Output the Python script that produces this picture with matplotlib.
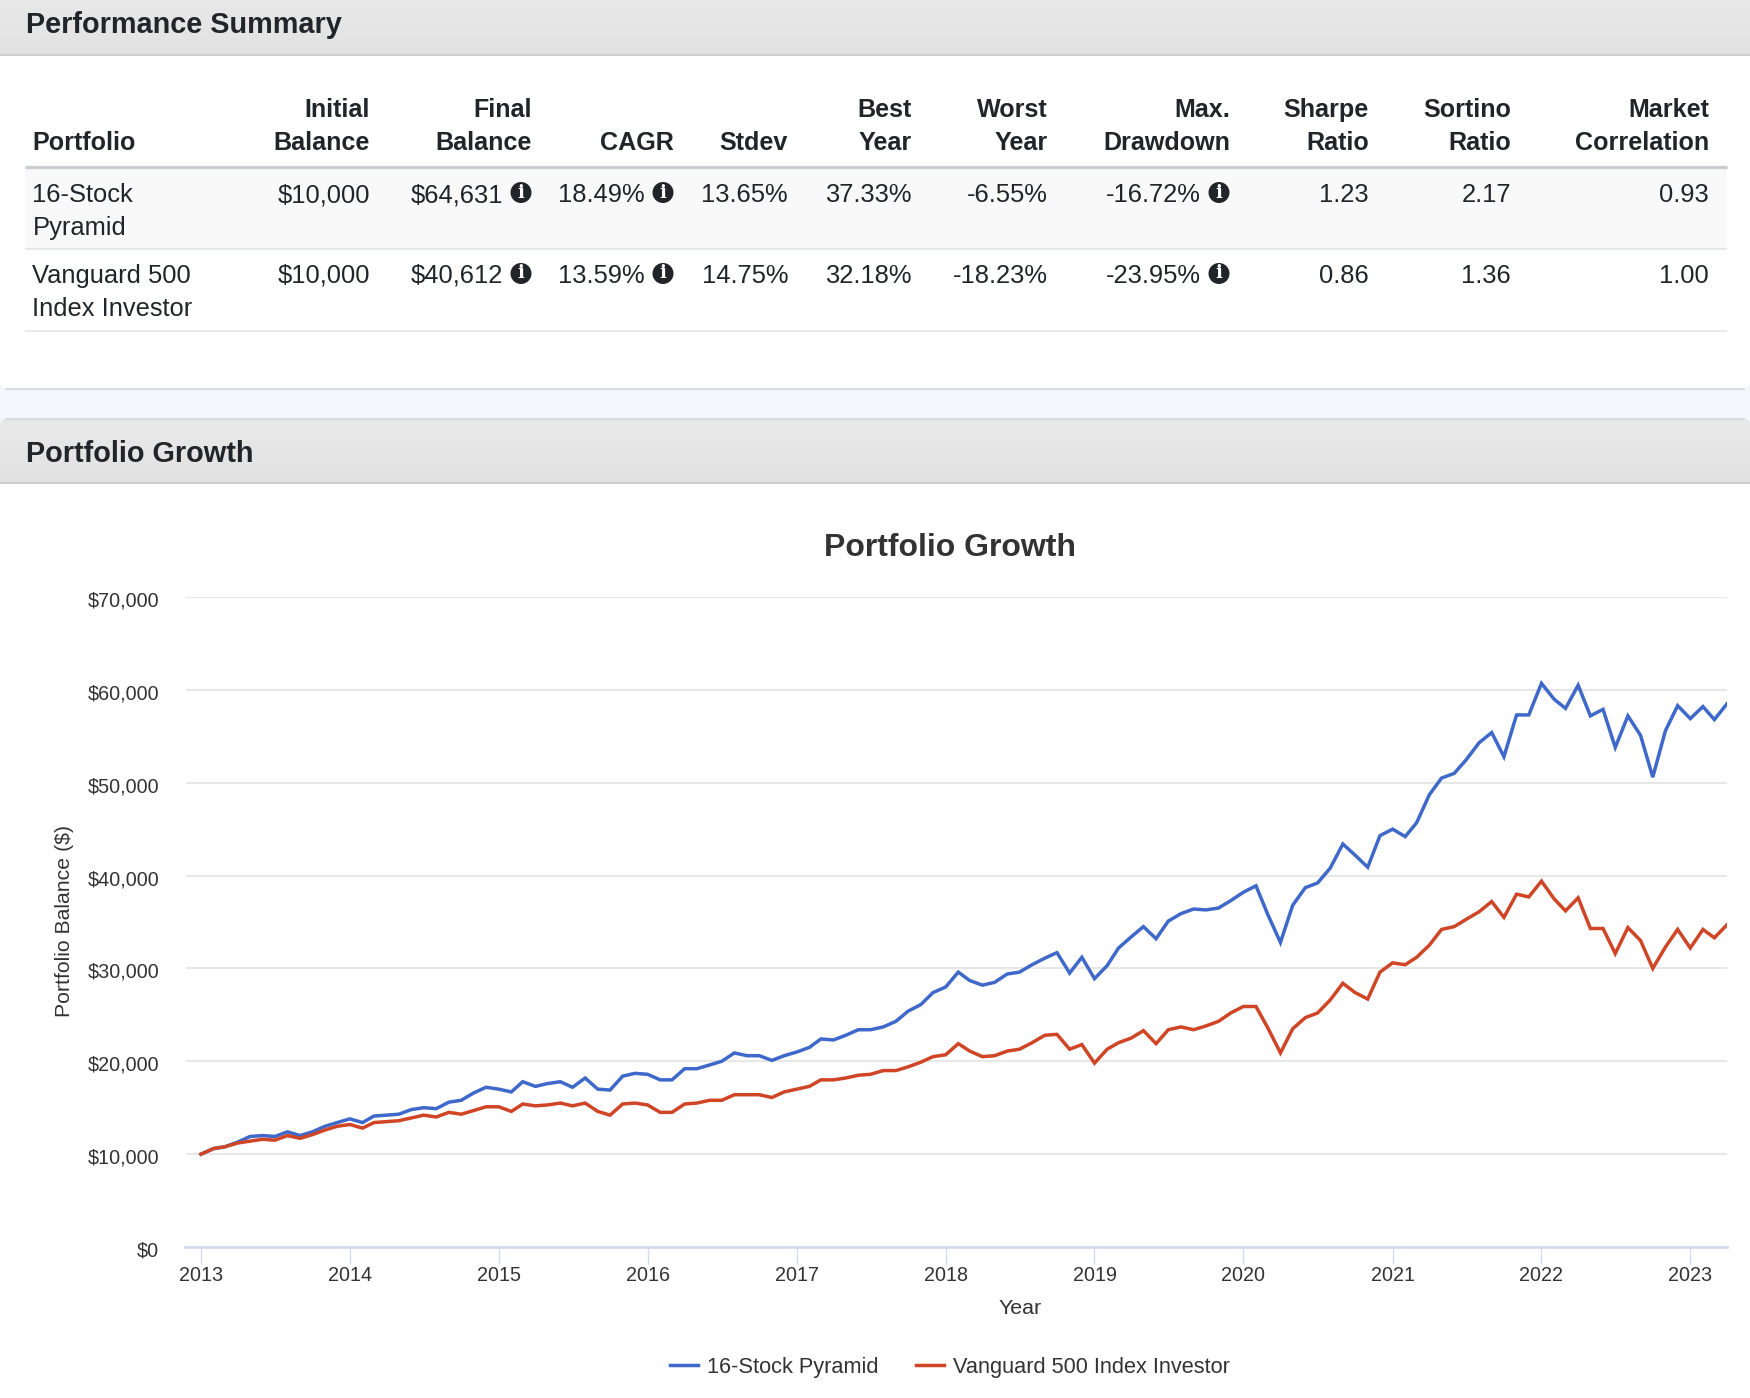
import numpy as np
import pandas as pd
import matplotlib
matplotlib.use("Agg")
import matplotlib.pyplot as plt
from matplotlib.patches import Rectangle, Circle, FancyBboxPatch
from matplotlib.transforms import ScaledTranslation

plt.rcParams['font.family'] = ['Liberation Sans', 'DejaVu Sans']

# 图表数据
dates = pd.date_range("2013-01-01", periods=124, freq="MS")
pyramid = [10000, 10600, 10800, 11300, 11900, 12000, 11900, 12400, 12000, 12400, 13000, 13400,
           13800, 13400, 14100, 14200, 14300, 14800, 15000, 14900, 15600, 15800, 16600, 17200,
           17000, 16700, 17800, 17300, 17600, 17800, 17200, 18200, 17000, 16900, 18400, 18700,
           18600, 18000, 18000, 19200, 19200, 19600, 20000, 20900, 20600, 20600, 20100, 20600,
           21000, 21500, 22400, 22300, 22800, 23400, 23400, 23700, 24300, 25400, 26100, 27400,
           28000, 29600, 28700, 28200, 28500, 29400, 29600, 30400, 31100, 31700, 29500, 31200,
           28900, 30300, 32200, 33400, 34500, 33200, 35100, 35900, 36400, 36300, 36500, 37300,
           38200, 38900, 35800, 32800, 36800, 38700, 39200, 40800, 43400, 42200, 40900, 44300,
           45000, 44200, 45700, 48700, 50500, 51000, 52500, 54300, 55400, 52800, 57300, 57300,
           60700, 59000, 58000, 60500, 57200, 57900, 53800, 57200, 55100, 50600, 55600, 58300,
           56900, 58200, 56800, 58500]
vanguard = [10000, 10600, 10800, 11200, 11400, 11600, 11500, 12000, 11700, 12100, 12600, 13000,
            13200, 12800, 13400, 13500, 13600, 13900, 14200, 14000, 14500, 14300, 14700, 15100,
            15100, 14600, 15400, 15200, 15300, 15500, 15200, 15500, 14600, 14200, 15400, 15500,
            15300, 14500, 14500, 15400, 15500, 15800, 15800, 16400, 16400, 16400, 16100, 16700,
            17000, 17300, 18000, 18000, 18200, 18500, 18600, 19000, 19000, 19400, 19900, 20500,
            20700, 21900, 21100, 20500, 20600, 21100, 21300, 22000, 22800, 22900, 21300, 21800,
            19800, 21300, 22000, 22500, 23300, 21900, 23400, 23700, 23400, 23800, 24300, 25200,
            25900, 25900, 23600, 20900, 23500, 24700, 25200, 26600, 28400, 27400, 26700, 29600,
            30600, 30400, 31200, 32500, 34200, 34500, 35300, 36100, 37200, 35500, 38000, 37700,
            39400, 37500, 36200, 37600, 34300, 34300, 31600, 34400, 33000, 30000, 32300, 34200,
            32200, 34200, 33300, 34700]
y_ticks = [0, 10000, 20000, 30000, 40000, 50000, 60000, 70000]
x_years = list(range(2013, 2024))

# 表格数据
headers_top = ["", "Initial", "Final", "", "", "Best", "Worst", "Max.", "Sharpe", "Sortino", "Market"]
headers_bottom = ["Portfolio", "Balance", "Balance", "CAGR", "Stdev", "Year", "Year", "Drawdown",
                  "Ratio", "Ratio", "Correlation"]
names = [["16-Stock", "Pyramid"], ["Vanguard 500", "Index Investor"]]
row1 = ["$10,000", "$64,631", "18.49%", "13.65%", "37.33%", "-6.55%", "-16.72%", "1.23", "2.17", "0.93"]
row2 = ["$10,000", "$40,612", "13.59%", "14.75%", "32.18%", "-18.23%", "-23.95%", "0.86", "1.36", "1.00"]
info_cols = [1, 2, 6]
right_edges = [370, 532, 674, 788, 912, 1048, 1230, 1369, 1511, 1709]

W, H = 1750, 1398
fig = plt.figure(figsize=(W / 100, H / 100), dpi=100, facecolor='#f4f6fb')

# 背景层，坐标就是像素
bg = fig.add_axes([0, 0, 1, 1], zorder=0)
bg.set_xlim(0, W)
bg.set_ylim(H, 0)
bg.axis('off')

ink = '#212529'


def panel_header(y0, y1, title, baseline):
    # 灰色渐变标题栏
    grad = np.linspace(0, 1, 64).reshape(-1, 1)
    im = bg.imshow(grad, extent=(0, W, y1, y0), cmap=matplotlib.colors.LinearSegmentedColormap.from_list(
        'g', ['#e9e9e9', '#e2e2e2']), aspect='auto', zorder=2)
    clip = FancyBboxPatch((0, y0), W, y1 - y0 + 20, boxstyle="round,pad=0,rounding_size=6",
                          transform=bg.transData, fc='none', ec='none')
    bg.add_patch(clip)
    if y0 > 0:
        im.set_clip_path(clip)
    bg.plot([0, W], [y1, y1], color='#c6c6c6', lw=1.2, zorder=3)
    bg.text(26, baseline, title, fontsize=20.8, fontweight='bold', color=ink, va='baseline', zorder=4)


# 面板：白底圆角，只有上下边线
bg.add_patch(FancyBboxPatch((0, -30), W, 419, boxstyle="round,pad=0,rounding_size=8",
                            fc='white', ec='none', zorder=1))
bg.add_patch(FancyBboxPatch((0, 419), W, 1020, boxstyle="round,pad=0,rounding_size=6",
                            fc='white', ec='none', zorder=1))
bg.plot([6, W - 6], [389, 389], color='#d3d6db', lw=1.2, zorder=2)
bg.plot([6, W - 6], [419, 419], color='#d3d6db', lw=1.2, zorder=3)
panel_header(0, 54.5, "Performance Summary", 33)
panel_header(419, 483, "Portfolio Growth", 462)
bg.set_xlim(0, W)
bg.set_ylim(H, 0)

# 表格
bg.add_patch(Rectangle((25, 168), 1702, 81, fc='#f9f9f9', ec='none', zorder=2))
bg.plot([25, 1727], [166.5, 166.5], color='#c9ccd0', lw=2.4, zorder=3, solid_capstyle='butt')
bg.plot([25, 1727], [249, 249], color='#e0e3e6', lw=1.1, zorder=3, solid_capstyle='butt')
bg.plot([25, 1727], [330.5, 330.5], color='#e0e3e6', lw=1.1, zorder=3, solid_capstyle='butt')

bg.text(32, 150, headers_bottom[0], fontsize=18.1, fontweight='bold', color=ink, zorder=4)
for i, x in enumerate(right_edges):
    bg.text(x, 117, headers_top[i + 1], fontsize=18.1, fontweight='bold', color=ink, ha='right', zorder=4)
    bg.text(x, 150, headers_bottom[i + 1], fontsize=18.1, fontweight='bold', color=ink, ha='right', zorder=4)

for row, name, y in [(row1, names[0], 202), (row2, names[1], 283)]:
    bg.text(32.5, y, name[0], fontsize=18.4, color=ink, zorder=4)
    bg.text(32.5, y + 33, name[1], fontsize=18.4, color=ink, zorder=4)
    for i, x in enumerate(right_edges):
        if i in info_cols:
            bg.text(x - 29, y, row[i], fontsize=18.4, color=ink, ha='right', zorder=4)
            bg.add_patch(Circle((x - 11, y - 9.5), 10.5, fc='#212529', ec='none', zorder=4))
            bg.text(x - 11, y - 9.5, "i", fontsize=13, fontweight='bold', family='DejaVu Serif',
                    color='white', ha='center', va='center', zorder=5)
        else:
            bg.text(x, y, row[i], fontsize=18.4, color=ink, ha='right', zorder=4)

# 折线图
ax = fig.add_axes([185.5 / W, 1 - 1247 / H, (1727 - 185.5) / W, 650 / H], zorder=1)
ax.patch.set_alpha(0)
ax.plot(dates, pyramid, color='#3e68c9', lw=2.5, label="16-Stock Pyramid", solid_joinstyle='miter')
ax.plot(dates, vanguard, color='#cf4526', lw=2.5, label="Vanguard 500 Index Investor", solid_joinstyle='miter')

ax.set_xlim(pd.Timestamp("2012-11-24"), pd.Timestamp("2023-04-01"))
ax.set_ylim(0, 70000)
ax.set_yticks(y_ticks)
ax.set_yticklabels(["${:,}".format(v) for v in y_ticks], va='center_baseline')
ax.set_xticks([pd.Timestamp(str(y) + "-01-01") for y in x_years])
ax.set_xticklabels([str(y) for y in x_years])
ax.grid(axis='y', color='#e7e7e7', lw=1.5)
ax.set_axisbelow(True)
for s in ['top', 'right', 'left']:
    ax.spines[s].set_visible(False)
ax.spines['bottom'].set_color('#d3dcee')
ax.spines['bottom'].set_linewidth(2)
ax.tick_params(axis='y', length=0, pad=19, labelsize=14.2, labelcolor='#333333')
ax.tick_params(axis='x', length=12, width=1, color='#d3dcee', pad=2, labelsize=14.2, labelcolor='#333333')
# y 轴标签往下挪一点
for lab in ax.get_yticklabels():
    lab.set_transform(lab.get_transform() + ScaledTranslation(0, -2 / 100, fig.dpi_scale_trans))

bg.text(950, 556, "Portfolio Growth", fontsize=23, fontweight='bold', color='#333333', ha='center', zorder=4)
bg.text(1020, 1309, "Year", fontsize=15.4, color='#333333', ha='center', va='center', zorder=4)
bg.text(64, 921, "Portfolio Balance ($)", fontsize=15.3, color='#333333', rotation=90,
        ha='center', va='center', zorder=4)

ax.legend(loc='center', bbox_to_anchor=(950 / W, 1 - 1367 / H), bbox_transform=fig.transFigure, ncol=2,
          frameon=False, fontsize=15.7, labelcolor='#333333', handlelength=1.29, handletextpad=0.41,
          columnspacing=1.7, borderpad=0, borderaxespad=0)

fig.savefig("out.png", dpi=100, facecolor=fig.get_facecolor())
